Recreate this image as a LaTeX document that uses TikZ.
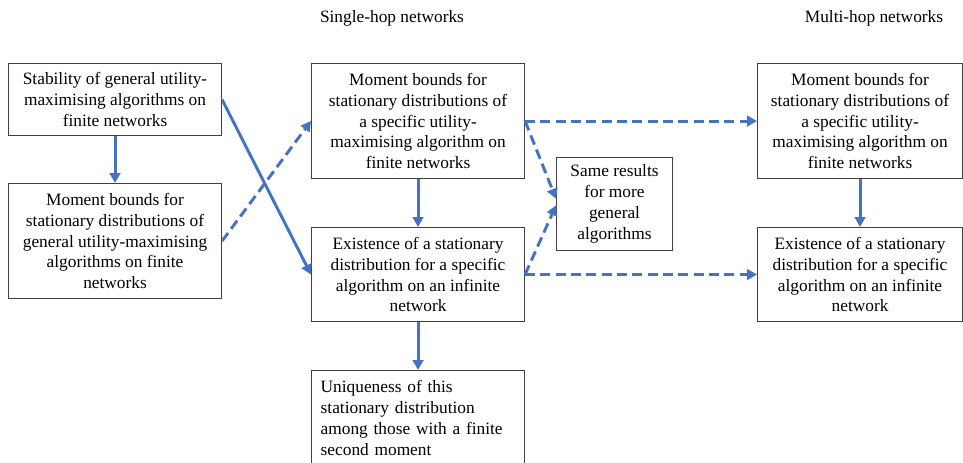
\documentclass[tikz,border=0pt]{standalone}
\usepackage{fontspec}
\setmainfont{Liberation Serif}
\usetikzlibrary{arrows.meta, positioning}
\definecolor{linkblue}{RGB}{68,114,196}

\tikzset{
  box/.style={draw=black!75, line width=0.8pt, rectangle, inner sep=0pt, align=center,
    anchor=north west, font=\fontsize{13}{15.7}\selectfont},
  head/.style={font=\fontsize{13}{15.7}\selectfont},
  link/.style={draw=linkblue, line width=2.2pt, -{Triangle[length=7.5pt,width=8pt]}},
  dlink/.style={link, dash pattern=on 7.5pt off 4pt},
}

\begin{document}
\begin{tikzpicture}[x=0.75pt, y=-0.75pt]
  \useasboundingbox (0,0) rectangle (963,462);
  % column headings
  \node[head] (single) at (392,18) {Single-hop networks};
  \node[head] (multi) at (874,18) {Multi-hop networks};
  % general algorithms
  \node[box, minimum width=159.75pt, minimum height=54pt] (stab) at (8,63)
    {Stability of general utility-\\maximising algorithms on\\finite networks};
  \node[box, minimum width=159.75pt, minimum height=86.25pt] (genmom) at (8,183)
    {Moment bounds for\\stationary distributions of\\general utility-maximising\\algorithms on finite\\networks};
  % single-hop
  \node[box, minimum width=159.75pt, minimum height=86.25pt] (spmom) at (311,63)
    {Moment bounds for\\stationary distributions of\\a specific utility-\\maximising algorithm on\\finite networks};
  \node[box, minimum width=159.75pt, minimum height=70.5pt] (spex) at (311,227)
    {Existence of a stationary\\distribution for a specific\\algorithm on an infinite\\network};
  \node[box, minimum width=159.75pt, minimum height=71pt, align=left, text width=146pt] (uniq) at (311,370)
    {Uniqueness of this\\stationary distribution\\among those with a finite\\second moment};
  \node[box, minimum width=87pt, minimum height=69.75pt] (same) at (556,157)
    {Same results\\for more\\general\\algorithms};
  % multi-hop
  \node[box, minimum width=153.75pt, minimum height=86.25pt] (mhmom) at (757,63)
    {Moment bounds for\\stationary distributions of\\a specific utility-\\maximising algorithm on\\finite networks};
  \node[box, minimum width=153.75pt, minimum height=70.5pt] (mhex) at (757,227)
    {Existence of a stationary\\distribution for a specific\\algorithm on an infinite\\network};

  % arrows
  \draw[link] (stab) -- (genmom);
  \draw[link] (stab.east) -- (spex.west);
  \draw[dlink] (genmom.east) -- (spmom.west);
  \draw[link] (spmom) -- (spex);
  \draw[link] (spex) -- (uniq);
  \draw[dlink] (spmom.east) -- (mhmom.west);
  \draw[dlink] (spex.east) -- (mhex.west);
  \draw[dlink] (spmom.east) -- ([yshift=4pt]same.west);
  \draw[dlink] (spex.east) -- ([yshift=-1pt]same.west);
  \draw[link] (mhmom) -- (mhex);
\end{tikzpicture}
\end{document}
